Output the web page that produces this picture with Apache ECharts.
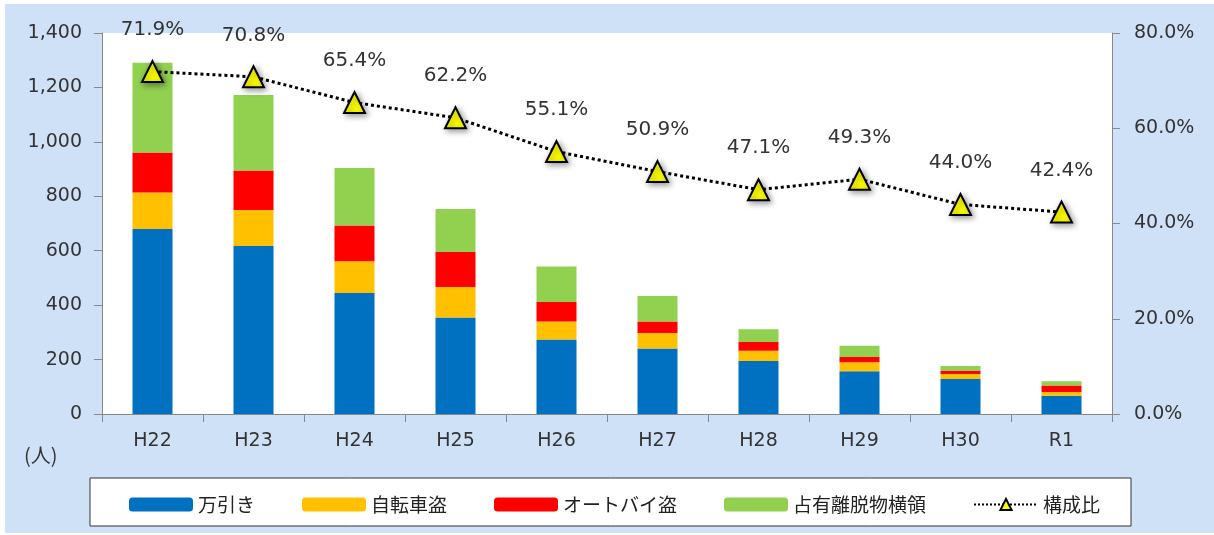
<!DOCTYPE html>
<html>
<head>
<meta charset="utf-8">
<script src="https://cdn.jsdelivr.net/npm/echarts@6/dist/echarts.min.js"></script>
<style>
html,body{margin:0;padding:0;background:#fff;}
#chart{width:1214px;height:535px;}
</style>
</head>
<body>
<div id="chart"></div>
<script>
const years = ['H22','H23','H24','H25','H26','H27','H28','H29','H30','R1'];
const manbiki = [680, 617, 445, 355, 274, 241, 195, 157, 129, 67];
const jitensha = [134, 133, 116, 112, 66, 57, 37, 33, 18, 14];
const autobai = [147, 145, 132, 128, 72, 42, 33, 19, 11, 24];
const senyu = [330, 277, 211, 158, 130, 94, 46, 42, 18, 15];
const ratio = [71.9, 70.8, 65.4, 62.2, 55.1, 50.9, 47.1, 49.3, 44.0, 42.4];

const font = '"DejaVu Sans", "Noto Sans CJK JP", sans-serif';
const jpFont = '"Noto Sans CJK JP", "Noto Sans", sans-serif';
const chart = echarts.init(document.getElementById('chart'));

function barSeries(name, data, color){
    return {
        name: name,
        type: 'bar',
        stack: 'total',
        barWidth: 40,
        data: data,
        itemStyle: {color: color}
    };
}

const option = {
    animation: false,
    textStyle: {fontFamily: font},
    graphic: [
        {type: 'rect', z: -10, shape: {x: 5, y: 4, width: 1209, height: 529}, style: {fill: '#cfe1f6'}},
        {type: 'rect', z: -5, shape: {x: 90, y: 478, width: 1041, height: 48},
            style: {fill: '#fff', stroke: '#333', lineWidth: 1}},
        {type: 'text', left: 24, top: 445, style: {text: '(人)', font: '20px ' + jpFont, fill: '#333'}}
    ],
    grid: {
        left: 102, right: 102, top: 33, bottom: 121,
        show: true, backgroundColor: '#fff', borderWidth: 0
    },
    legend: {
        left: 124, top: 490,
        itemWidth: 64, itemHeight: 14, itemGap: 47,
        textStyle: {fontSize: 19, color: '#222', fontFamily: jpFont},
        data: ['万引き','自転車盗','オートバイ盗','占有離脱物横領','構成比']
    },
    xAxis: {
        type: 'category',
        data: years,
        axisLine: {lineStyle: {color: '#888'}},
        axisTick: {show: true, length: 8, lineStyle: {color: '#888'}},
        axisLabel: {fontSize: 19, color: '#333', margin: 18}
    },
    yAxis: [
        {
            type: 'value', min: 0, max: 1400, interval: 200,
            splitLine: {show: false},
            axisLine: {show: true, lineStyle: {color: '#888'}},
            axisTick: {show: true, length: 8, lineStyle: {color: '#888'}},
            axisLabel: {fontSize: 19, color: '#333', margin: 20,
                formatter: v => v.toLocaleString('en-US')}
        },
        {
            type: 'value', min: 0, max: 80, interval: 20,
            splitLine: {show: false},
            axisLine: {show: true, lineStyle: {color: '#888'}},
            axisTick: {show: true, length: 8, lineStyle: {color: '#888'}},
            axisLabel: {fontSize: 19, color: '#333', margin: 22,
                formatter: v => v.toFixed(1) + '%'}
        }
    ],
    series: [
        barSeries('万引き', manbiki, '#0070c0'),
        barSeries('自転車盗', jitensha, '#ffc000'),
        barSeries('オートバイ盗', autobai, '#ff0000'),
        barSeries('占有離脱物横領', senyu, '#92d050'),
        {
            name: '構成比',
            type: 'line',
            yAxisIndex: 1,
            data: ratio,
            symbol: 'triangle',
            symbolSize: 21,
            z: 10,
            lineStyle: {color: '#000', width: 3, type: 'dotted'},
            itemStyle: {color: '#ffff00', borderColor: '#000', borderWidth: 2,
                shadowColor: 'rgba(0,0,0,0.4)', shadowBlur: 6, shadowOffsetX: 2, shadowOffsetY: 2},
            label: {
                show: true, position: 'top', distance: 20,
                fontSize: 20, color: '#333',
                formatter: p => p.value.toFixed(1) + '%'
            }
        }
    ]
};
chart.setOption(option);
</script>
</body>
</html>
